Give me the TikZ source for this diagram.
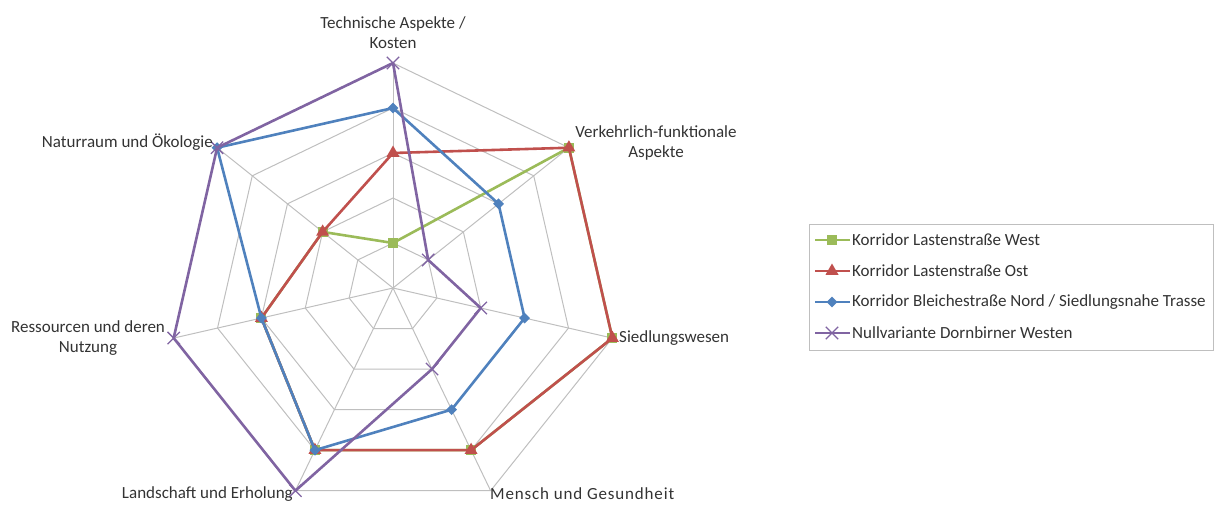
\documentclass[tikz,border=0pt]{standalone}
\usepackage{fontspec}
\setmainfont{Carlito}
\usetikzlibrary{shapes.geometric,shapes.misc}
\definecolor{sgreen}{HTML}{9BBB59}
\definecolor{sred}{HTML}{C0504D}
\definecolor{sblue}{HTML}{4F81BD}
\definecolor{spurple}{HTML}{8064A2}
\definecolor{gridc}{HTML}{BFBFBF}
\tikzset{
  gridline/.style={draw=gridc,line width=1pt},
  sline/.style={line width=2.6pt,line join=round},
  mgreen/.style={fill=sgreen,draw=none,rectangle,minimum size=10pt,inner sep=0pt},
  mred/.style={fill=sred,draw=none,regular polygon,regular polygon sides=3,minimum size=15pt,inner sep=0pt},
  mblue/.style={fill=sblue,draw=none,diamond,minimum size=11pt,inner sep=0pt},
  mpurple/.style={draw=spurple,cross out,line width=1.3pt,minimum size=11pt,inner sep=0pt},
  lbl/.style={font=\fontsize{17}{20}\selectfont,text=black!80,inner sep=0pt,align=center},
  leg/.style={font=\fontsize{17}{20}\selectfont,text=black!80,inner sep=0pt,anchor=west},
}
\begin{document}
\begin{tikzpicture}[x=1pt,y=-1pt]
\useasboundingbox (0,0) rectangle (1215,504);
\begin{scope}[shift={(393,288)}]
  % spokes
  \foreach \i in {0,...,6} \draw[gridline] (0,0) -- ({\i*360/7-90}:225);
  % rings
  \foreach \k in {1,...,5}
    \draw[gridline] (-90:{45*\k}) \foreach \i in {1,...,6} { -- ({\i*360/7-90}:{45*\k}) } -- cycle;
  % data coordinates
  \foreach \v [count=\i from 0] in {1,5,5,4,4,3,2} \coordinate (g\i) at ({\i*360/7-90}:{45*\v});
  \foreach \v [count=\i from 0] in {3,5,5,4,4,3,2} \coordinate (r\i) at ({\i*360/7-90}:{45*\v});
  \foreach \v [count=\i from 0] in {4,3,3,3,4,3,5} \coordinate (b\i) at ({\i*360/7-90}:{45*\v});
  \foreach \v [count=\i from 0] in {5,1,2,2,5,5,5} \coordinate (p\i) at ({\i*360/7-90}:{45*\v});
  % green
  \draw[sline,sgreen] (g0)--(g1)--(g2)--(g3)--(g4)--(g5)--(g6)--cycle;
  \foreach \i in {0,...,6} \node[mgreen] (gm\i) at (g\i) {};
  % red
  \draw[sline,sred] (r0)--(r1)--(r2)--(r3)--(r4)--(r5)--(r6)--cycle;
  \foreach \i in {0,...,6} \node[mred] (rm\i) at (r\i) {};
  % blue
  \draw[sline,sblue] (b0)--(b1)--(b2)--(b3)--(b4)--(b5)--(b6)--cycle;
  \foreach \i in {0,...,6} \node[mblue] (bm\i) at (b\i) {};
  % purple
  \draw[sline,spurple] (p0)--(p1)--(p2)--(p3)--(p4)--(p5)--(p6)--cycle;
  \foreach \i in {0,...,6} \node[mpurple] (pm\i) at (p\i) {};
\end{scope}
% axis labels
\node[lbl] (l0) at (393,33) {Technische Aspekte /\\Kosten};
\node[lbl] (l1) at (656,143) {Verkehrlich-funktionale\\Aspekte};
\node[lbl,anchor=west] (l2) at (619,338) {Siedlungswesen};
\node[lbl,anchor=west] (l3) at (490,494) {\addfontfeature{LetterSpace=5}Mensch und Gesundheit};
\node[lbl,anchor=east] (l4) at (293,494) {Landschaft und Erholung};
\node[lbl] (l5) at (88,338) {Ressourcen und deren\\Nutzung};
\node[lbl,anchor=east] (l6) at (213,142) {Naturraum und Ökologie};
% legend
\draw[draw=gridc,line width=1pt,fill=white] (809,224) rectangle (1213,350);
\foreach \y/\c/\m/\t [count=\j] in {240/sgreen/mgreen/{Korridor Lastenstraße West},
  271/sred/mred/{Korridor Lastenstraße Ost},
  302/sblue/mblue/{Korridor Bleichestraße Nord / Siedlungsnahe Trasse},
  333/spurple/mpurple/{Nullvariante Dornbirner Westen}} {
  \coordinate (la\j) at (815,\y);
  \coordinate (lb\j) at (850,\y);
  \draw[sline,\c] (la\j) -- (lb\j);
  \node[\m] (lm\j) at (832,\y) {};
  \node[leg] (lt\j) at (852,\y) {\t};
}
\end{tikzpicture}
\end{document}
